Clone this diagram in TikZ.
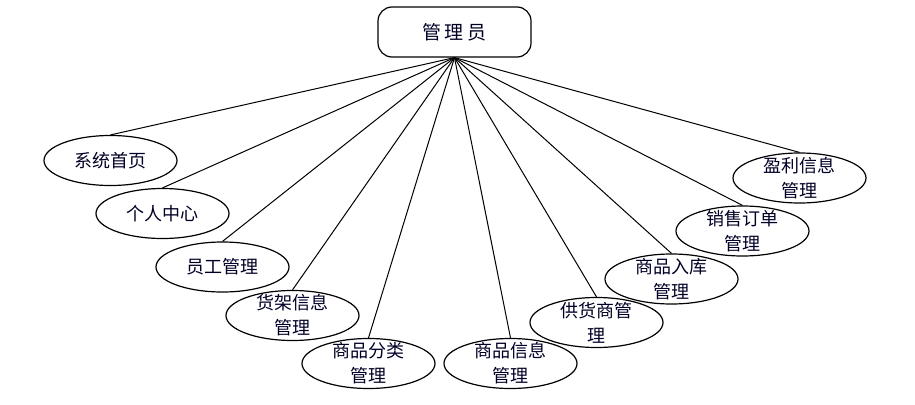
\documentclass[tikz,border=0pt]{standalone}
\usepackage{fontspec}
\setmainfont{Noto Sans CJK SC}
\usetikzlibrary{shapes.geometric}
\begin{document}
\begin{tikzpicture}[x=1pt,y=-1pt,
  ell/.style={ellipse,draw,line width=1.2pt,minimum width=133pt,minimum height=50pt,inner sep=0pt},
  lbl/.style={align=center,font=\fontsize{18}{25}\selectfont,inner sep=0pt,text=black!85!blue},
  rootbox/.style={draw,line width=1.2pt,rounded corners=14pt,minimum width=153pt,minimum height=50pt,font=\fontsize{19}{24}\selectfont,text=black!85!blue},
  conn/.style={line width=1pt}]
\useasboundingbox (0,0) rectangle (915,404);
\node[rootbox] (root) at (454.5,32) {管\,理\,员};
\coordinate (hub) at (root.south);
\node[ell] (e1) at (110.5,160.5) {};
\node[ell] (e2) at (162.5,213.5) {};
\node[ell] (e3) at (222.5,267) {};
\node[ell] (e4) at (292.5,315.5) {};
\node[ell] (e5) at (368.5,363.5) {};
\node[ell] (e6) at (510.5,363.5) {};
\node[ell] (e7) at (596.5,322.5) {};
\node[ell] (e8) at (671.5,279) {};
\node[ell] (e9) at (742.5,231) {};
\node[ell] (e10) at (799.5,178) {};
\node[lbl] (t1) at (e1) {系统首页};
\node[lbl] (t2) at (e2) {个人中心};
\node[lbl] (t3) at (e3) {员工管理};
\node[lbl] (t4) at (e4) {货架信息\\管理};
\node[lbl] (t5) at (e5) {商品分类\\管理};
\node[lbl] (t6) at (e6) {商品信息\\管理};
\node[lbl] (t7) at (e7) {供货商管\\理};
\node[lbl] (t8) at (e8) {商品入库\\管理};
\node[lbl] (t9) at (e9) {销售订单\\管理};
\node[lbl] (t10) at (e10) {盈利信息\\管理};
\foreach \i in {1,...,10} {\draw[conn] (hub) -- (e\i.north);}
\end{tikzpicture}
\end{document}
